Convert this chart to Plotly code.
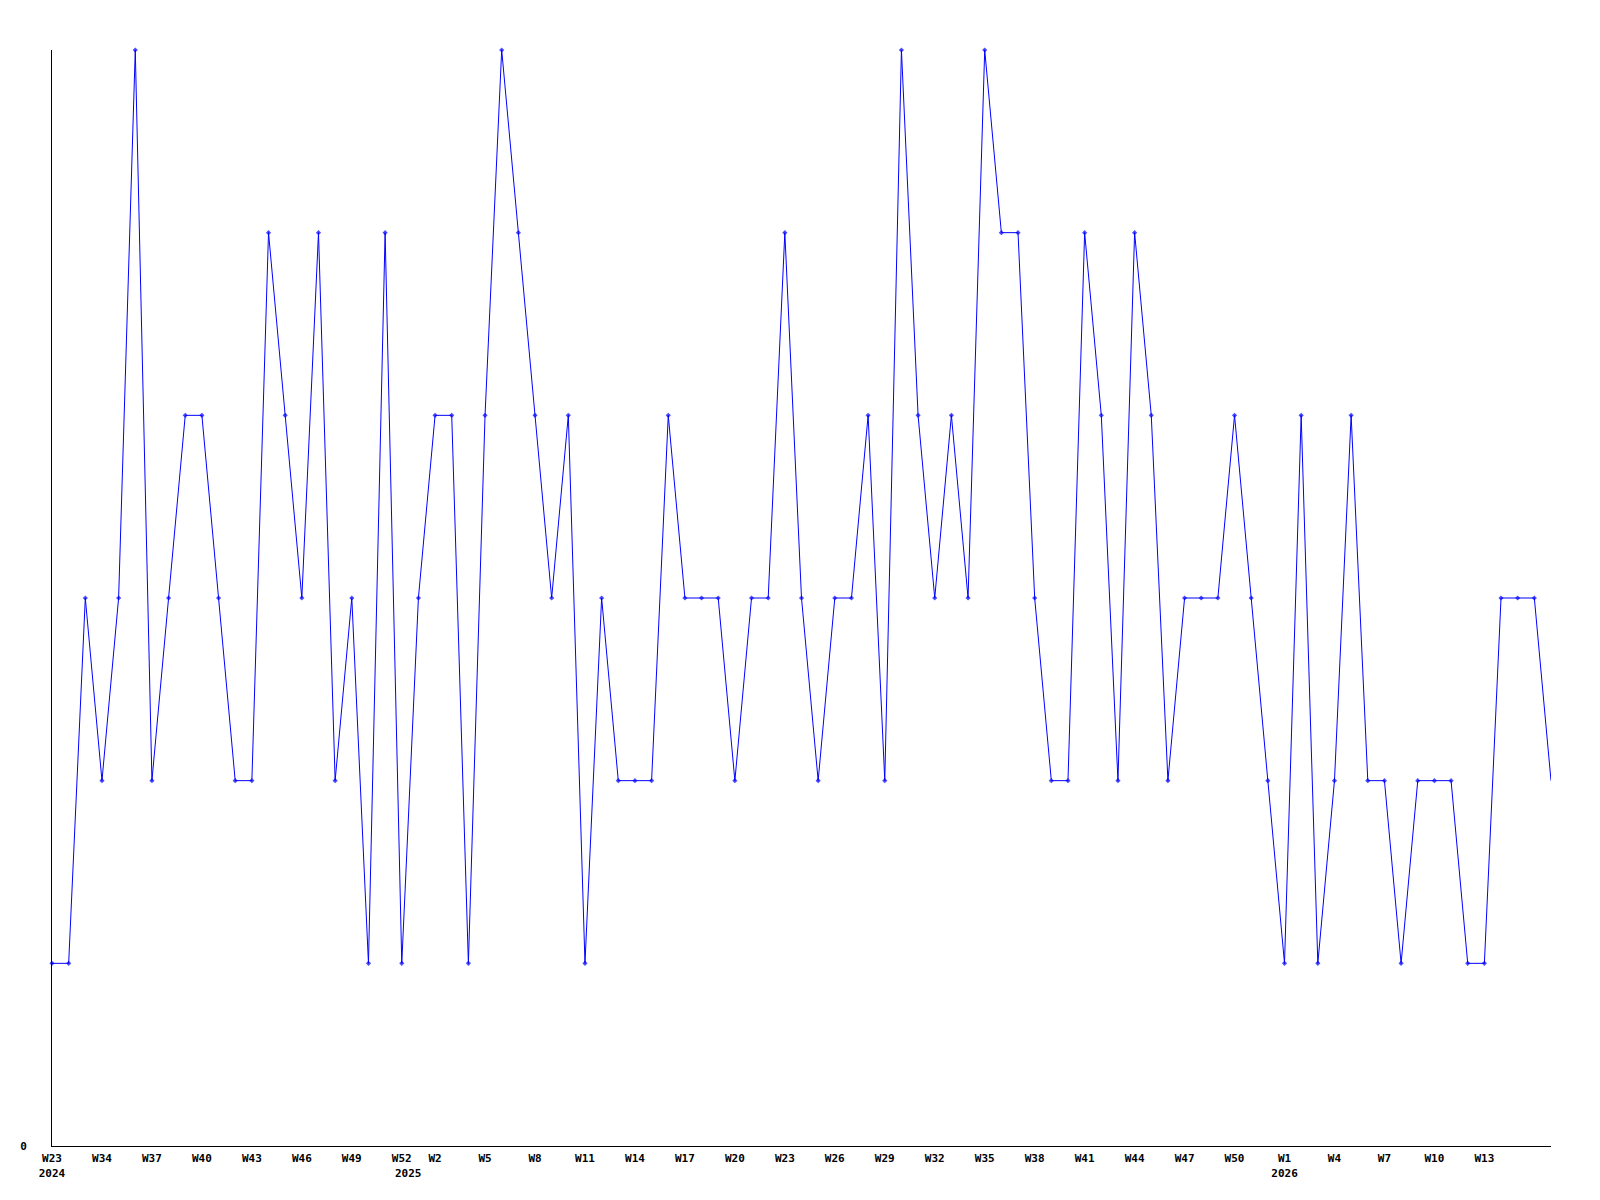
import plotly.graph_objects as go

# weekly counts, one point per week (91 weeks)
valores = [1, 1, 3, 2, 3, 6, 2, 3, 4, 4,
           3, 2, 2, 5, 4, 3, 5, 2, 3, 1,
           5, 1, 3, 4, 4, 1, 4, 6, 5, 4,
           3, 4, 1, 3, 2, 2, 2, 4, 3, 3,
           3, 2, 3, 3, 5, 3, 2, 3, 3, 4,
           2, 6, 4, 3, 4, 3, 6, 5, 5, 3,
           2, 2, 5, 4, 2, 5, 4, 2, 3, 3,
           3, 4, 3, 2, 1, 4, 1, 2, 4, 2,
           2, 1, 2, 2, 2, 1, 1, 3, 3, 3,
           2]
semanas = list(range(len(valores)))

# etiquetas del eje x (posición = índice de semana)
tick_pos = [0, 3, 6, 9, 12, 15, 18, 21, 23, 26, 29, 32, 35, 38, 41, 44, 47, 50,
            53, 56, 59, 62, 65, 68, 71, 74, 77, 80, 83, 86]
tick_txt = ["W23<br>2024", "W34", "W37", "W40", "W43", "W46", "W49", "W52",
            "W2", "W5", "W8", "W11", "W14", "W17", "W20", "W23", "W26", "W29",
            "W32", "W35", "W38", "W41", "W44", "W47", "W50", "W1<br>2026",
            "W4", "W7", "W10", "W13"]
anio_extra = ("2025", 21.4)

FUENTE = dict(family="DejaVu Sans Mono", size=11, color="black", weight="bold")

fig = go.Figure()
fig.add_trace(go.Scatter(
    x=semanas, y=valores, mode="lines+markers",
    line=dict(color="#0000ff", width=1),
    marker=dict(symbol="diamond", size=[4] * (len(valores) - 1) + [0],
                color="#0000ff", line=dict(width=0)),
    cliponaxis=False, showlegend=False))

fig.add_annotation(x=anio_extra[1], y=0, xref="x", yref="paper", yshift=-27,
                   yanchor="middle", xanchor="center", showarrow=False,
                   text=anio_extra[0], font=FUENTE)

# la página añade 8 px de margen al cuerpo: se compensa aquí
fig.update_layout(
    width=1584, height=1184, plot_bgcolor="white", paper_bgcolor="white",
    margin=dict(l=42, r=41, t=42, b=42),
    xaxis=dict(range=[0, 90], tickvals=tick_pos, ticktext=tick_txt,
               tickfont=FUENTE, showgrid=False, zeroline=False,
               showline=True, linecolor="black", linewidth=1,
               ticks="", ticklabelstandoff=2),
    yaxis=dict(range=[0, 6], tickvals=[0], ticktext=["0"], tickfont=FUENTE,
               showgrid=False, zeroline=False, showline=True,
               linecolor="black", linewidth=1, ticks="",
               ticklabelstandoff=22))

fig.write_html("out.html")
